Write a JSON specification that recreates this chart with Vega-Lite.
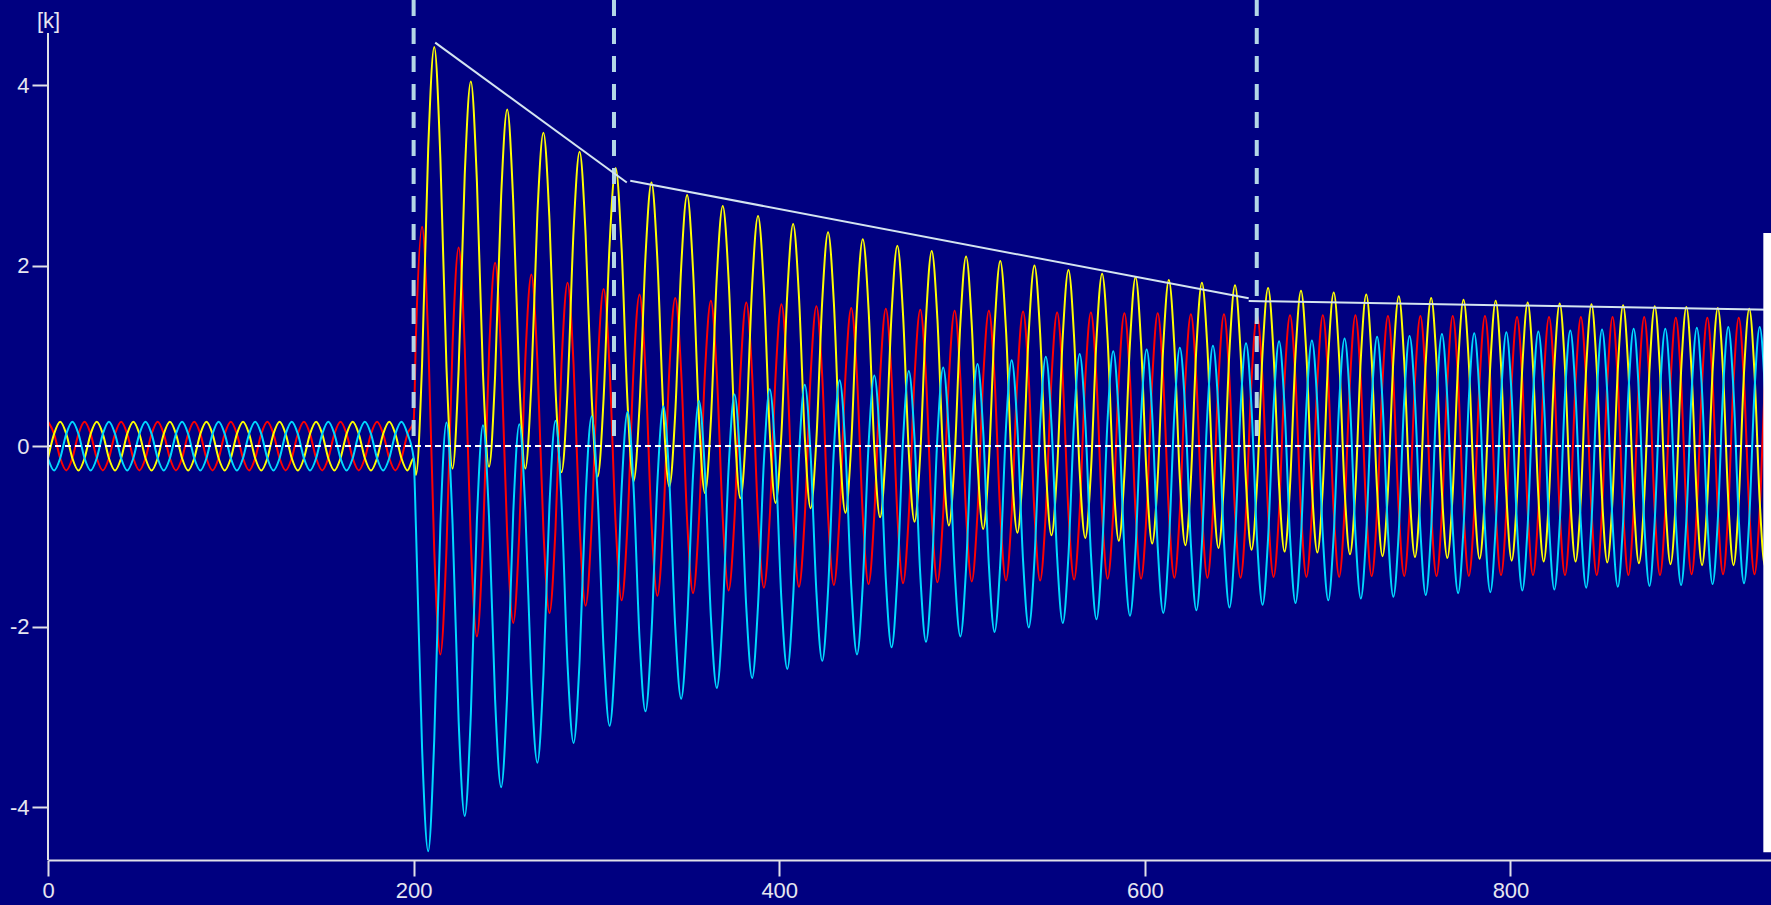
{
"$schema": "https://vega.github.io/schema/vega-lite/v6.json",
"width": 1723,
"height": 860,
"autosize": {"type": "none"},
"padding": {"left": 48, "top": 0, "right": 0, "bottom": 45},
"background": "#000080",
"config": {
"view": {"stroke": null},
"axis": {"grid": false, "domainColor": "#E0E0E8", "domainWidth": 2, "tickColor": "#E0E0E8", "tickWidth": 2, "tickSize": 16, "labelColor": "#E6E6F0", "labelFont": "Liberation Sans", "labelFontSize": 22, "labelFlush": false, "titleColor": "#E6E6F0", "titleFont": "Liberation Sans", "titleFontSize": 22, "titleFontWeight": "normal"},
"axisX": {"labelPadding": 4},
"axisY": {"labelPadding": 3, "domain": false, "titleAngle": 0, "titleX": 0, "titleY": 20, "titleAlign": "center", "titleBaseline": "middle"}
},
"datasets": {
"wave": [
{"t":0,"y":-0.135,"r":0.27,"c":-0.135},{"t":3.33,"y":0.135,"r":0.135,"c":-0.27},{"t":6.67,"y":0.27,"r":-0.135,"c":-0.135},{"t":10,"y":0.135,"r":-0.27,"c":0.135},{"t":13.33,"y":-0.135,"r":-0.135,"c":0.27},{"t":16.67,"y":-0.27,"r":0.135,"c":0.135},
{"t":20,"y":-0.135,"r":0.27,"c":-0.135},{"t":23.33,"y":0.135,"r":0.135,"c":-0.27},{"t":26.67,"y":0.27,"r":-0.135,"c":-0.135},{"t":30,"y":0.135,"r":-0.27,"c":0.135},{"t":33.33,"y":-0.135,"r":-0.135,"c":0.27},{"t":36.67,"y":-0.27,"r":0.135,"c":0.135},
{"t":40,"y":-0.135,"r":0.27,"c":-0.135},{"t":43.33,"y":0.135,"r":0.135,"c":-0.27},{"t":46.67,"y":0.27,"r":-0.135,"c":-0.135},{"t":50,"y":0.135,"r":-0.27,"c":0.135},{"t":53.33,"y":-0.135,"r":-0.135,"c":0.27},{"t":56.67,"y":-0.27,"r":0.135,"c":0.135},
{"t":60,"y":-0.135,"r":0.27,"c":-0.135},{"t":63.33,"y":0.135,"r":0.135,"c":-0.27},{"t":66.67,"y":0.27,"r":-0.135,"c":-0.135},{"t":70,"y":0.135,"r":-0.27,"c":0.135},{"t":73.33,"y":-0.135,"r":-0.135,"c":0.27},{"t":76.67,"y":-0.27,"r":0.135,"c":0.135},
{"t":80,"y":-0.135,"r":0.27,"c":-0.135},{"t":83.33,"y":0.135,"r":0.135,"c":-0.27},{"t":86.67,"y":0.27,"r":-0.135,"c":-0.135},{"t":90,"y":0.135,"r":-0.27,"c":0.135},{"t":93.33,"y":-0.135,"r":-0.135,"c":0.27},{"t":96.67,"y":-0.27,"r":0.135,"c":0.135},
{"t":100,"y":-0.135,"r":0.27,"c":-0.135},{"t":103.33,"y":0.135,"r":0.135,"c":-0.27},{"t":106.67,"y":0.27,"r":-0.135,"c":-0.135},{"t":110,"y":0.135,"r":-0.27,"c":0.135},{"t":113.33,"y":-0.135,"r":-0.135,"c":0.27},{"t":116.67,"y":-0.27,"r":0.135,"c":0.135},
{"t":120,"y":-0.135,"r":0.27,"c":-0.135},{"t":123.33,"y":0.135,"r":0.135,"c":-0.27},{"t":126.67,"y":0.27,"r":-0.135,"c":-0.135},{"t":130,"y":0.135,"r":-0.27,"c":0.135},{"t":133.33,"y":-0.135,"r":-0.135,"c":0.27},{"t":136.67,"y":-0.27,"r":0.135,"c":0.135},
{"t":140,"y":-0.135,"r":0.27,"c":-0.135},{"t":143.33,"y":0.135,"r":0.135,"c":-0.27},{"t":146.67,"y":0.27,"r":-0.135,"c":-0.135},{"t":150,"y":0.135,"r":-0.27,"c":0.135},{"t":153.33,"y":-0.135,"r":-0.135,"c":0.27},{"t":156.67,"y":-0.27,"r":0.135,"c":0.135},
{"t":160,"y":-0.135,"r":0.27,"c":-0.135},{"t":163.33,"y":0.135,"r":0.135,"c":-0.27},{"t":166.67,"y":0.27,"r":-0.135,"c":-0.135},{"t":170,"y":0.135,"r":-0.27,"c":0.135},{"t":173.33,"y":-0.135,"r":-0.135,"c":0.27},{"t":176.67,"y":-0.27,"r":0.135,"c":0.135},
{"t":180,"y":-0.135,"r":0.27,"c":-0.135},{"t":183.33,"y":0.135,"r":0.135,"c":-0.27},{"t":186.67,"y":0.27,"r":-0.135,"c":-0.135},{"t":190,"y":0.135,"r":-0.27,"c":0.135},{"t":193.33,"y":-0.135,"r":-0.135,"c":0.27},{"t":196.67,"y":-0.27,"r":0.135,"c":0.135},
{"t":200,"y":-0.135,"r":0.27,"c":-0.135},
{"t":201.3,"y":-0.32,"r":1.24,"c":-0.92},{"t":204.63,"y":0.91,"r":2.43,"c":-3.35},{"t":207.97,"y":3.29,"r":1.2,"c":-4.49},
{"t":211.3,"y":4.42,"r":-1.17,"c":-3.24},{"t":214.63,"y":3.19,"r":-2.31,"c":-0.88},{"t":217.97,"y":0.87,"r":-1.14,"c":0.26},{"t":221.3,"y":-0.25,"r":1.12,"c":-0.86},{"t":224.63,"y":0.85,"r":2.2,"c":-3.05},{"t":227.97,"y":3.01,"r":1.08,"c":-4.1},
{"t":231.3,"y":4.04,"r":-1.07,"c":-2.97},{"t":234.62,"y":2.93,"r":-2.11,"c":-0.82},{"t":237.93,"y":0.81,"r":-1.04,"c":0.23},{"t":241.25,"y":-0.23,"r":1.03,"c":-0.79},{"t":244.57,"y":0.78,"r":2.03,"c":-2.81},{"t":247.88,"y":2.77,"r":1.0,"c":-3.78},
{"t":251.2,"y":3.73,"r":-0.99,"c":-2.74},{"t":254.5,"y":2.7,"r":-1.96,"c":-0.74},{"t":257.8,"y":0.73,"r":-0.97,"c":0.24},{"t":261.1,"y":-0.25,"r":0.96,"c":-0.71},{"t":264.4,"y":0.7,"r":1.9,"c":-2.6},{"t":267.7,"y":2.57,"r":0.94,"c":-3.51},
{"t":271.0,"y":3.47,"r":-0.93,"c":-2.54},{"t":274.3,"y":2.51,"r":-1.85,"c":-0.66},{"t":277.6,"y":0.64,"r":-0.92,"c":0.28},{"t":280.9,"y":-0.29,"r":0.91,"c":-0.63},{"t":284.2,"y":0.61,"r":1.81,"c":-2.42},{"t":287.5,"y":2.39,"r":0.9,"c":-3.29},
{"t":290.8,"y":3.26,"r":-0.89,"c":-2.37},{"t":294.08,"y":2.34,"r":-1.77,"c":-0.57},{"t":297.37,"y":0.55,"r":-0.88,"c":0.33},{"t":300.65,"y":-0.34,"r":0.87,"c":-0.54},{"t":303.93,"y":0.53,"r":1.74,"c":-2.26},{"t":307.22,"y":2.24,"r":0.86,"c":-3.1},
{"t":310.5,"y":3.08,"r":-0.86,"c":-2.22},{"t":313.77,"y":2.19,"r":-1.71,"c":-0.48},{"t":317.03,"y":0.47,"r":-0.85,"c":0.38},{"t":320.3,"y":-0.39,"r":0.85,"c":-0.45},{"t":323.57,"y":0.44,"r":1.68,"c":-2.13},{"t":326.83,"y":2.1,"r":0.84,"c":-2.94},
{"t":330.1,"y":2.92,"r":-0.84,"c":-2.08},{"t":333.35,"y":2.06,"r":-1.66,"c":-0.4},{"t":336.6,"y":0.39,"r":-0.83,"c":0.44},{"t":339.85,"y":-0.45,"r":0.83,"c":-0.37},{"t":343.1,"y":0.36,"r":1.64,"c":-2.0},{"t":346.35,"y":1.98,"r":0.82,"c":-2.8},
{"t":349.6,"y":2.78,"r":-0.82,"c":-1.96},{"t":352.85,"y":1.95,"r":-1.63,"c":-0.32},{"t":356.1,"y":0.31,"r":-0.81,"c":0.5},{"t":359.35,"y":-0.52,"r":0.81,"c":-0.29},{"t":362.6,"y":0.28,"r":1.61,"c":-1.89},{"t":365.85,"y":1.88,"r":0.8,"c":-2.68},
{"t":369.1,"y":2.66,"r":-0.8,"c":-1.86},{"t":372.32,"y":1.84,"r":-1.6,"c":-0.24},{"t":375.53,"y":0.23,"r":-0.8,"c":0.57},{"t":378.75,"y":-0.58,"r":0.8,"c":-0.22},{"t":381.97,"y":0.21,"r":1.59,"c":-1.79},{"t":385.18,"y":1.78,"r":0.79,"c":-2.57},
{"t":388.4,"y":2.55,"r":-0.79,"c":-1.76},{"t":391.6,"y":1.75,"r":-1.57,"c":-0.17},{"t":394.8,"y":0.16,"r":-0.79,"c":0.63},{"t":398.0,"y":-0.63,"r":0.78,"c":-0.15},{"t":401.2,"y":0.14,"r":1.57,"c":-1.71},{"t":404.4,"y":1.69,"r":0.78,"c":-2.47},
{"t":407.6,"y":2.46,"r":-0.78,"c":-1.68},{"t":410.78,"y":1.66,"r":-1.56,"c":-0.11},{"t":413.97,"y":0.1,"r":-0.78,"c":0.68},{"t":417.15,"y":-0.69,"r":0.78,"c":-0.09},{"t":420.33,"y":0.08,"r":1.55,"c":-1.62},{"t":423.52,"y":1.61,"r":0.77,"c":-2.38},
{"t":426.7,"y":2.37,"r":-0.77,"c":-1.6},{"t":429.87,"y":1.59,"r":-1.54,"c":-0.05},{"t":433.03,"y":0.04,"r":-0.77,"c":0.73},{"t":436.2,"y":-0.74,"r":0.77,"c":-0.03},{"t":439.37,"y":0.02,"r":1.53,"c":-1.55},{"t":442.53,"y":1.54,"r":0.77,"c":-2.31},
{"t":445.7,"y":2.29,"r":-0.77,"c":-1.53},{"t":448.85,"y":1.52,"r":-1.53,"c":0.01},{"t":452.0,"y":-0.02,"r":-0.76,"c":0.78},{"t":455.15,"y":-0.79,"r":0.76,"c":0.03},{"t":458.3,"y":-0.04,"r":1.52,"c":-1.48},{"t":461.45,"y":1.47,"r":0.76,"c":-2.23},
{"t":464.6,"y":2.22,"r":-0.76,"c":-1.46},{"t":467.73,"y":1.45,"r":-1.52,"c":0.07},{"t":470.87,"y":-0.07,"r":-0.76,"c":0.83},{"t":474.0,"y":-0.84,"r":0.76,"c":0.08},{"t":477.13,"y":-0.09,"r":1.51,"c":-1.42},{"t":480.27,"y":1.41,"r":0.76,"c":-2.17},
{"t":483.4,"y":2.16,"r":-0.75,"c":-1.41},{"t":486.53,"y":1.4,"r":-1.51,"c":0.11},{"t":489.67,"y":-0.12,"r":-0.75,"c":0.87},{"t":492.8,"y":-0.88,"r":0.75,"c":0.13},{"t":495.93,"y":-0.14,"r":1.5,"c":-1.37},{"t":499.07,"y":1.36,"r":0.75,"c":-2.11},
{"t":502.2,"y":2.1,"r":-0.75,"c":-1.35},{"t":505.32,"y":1.34,"r":-1.5,"c":0.16},{"t":508.43,"y":-0.17,"r":-0.75,"c":0.91},{"t":511.55,"y":-0.92,"r":0.75,"c":0.17},{"t":514.67,"y":-0.18,"r":1.5,"c":-1.32},{"t":517.78,"y":1.31,"r":0.75,"c":-2.06},
{"t":520.9,"y":2.05,"r":-0.75,"c":-1.3},{"t":524.02,"y":1.29,"r":-1.49,"c":0.2},{"t":527.13,"y":-0.21,"r":-0.75,"c":0.95},{"t":530.25,"y":-0.96,"r":0.74,"c":0.21},{"t":533.37,"y":-0.22,"r":1.49,"c":-1.27},{"t":536.48,"y":1.26,"r":0.74,"c":-2.01},
{"t":539.6,"y":2.0,"r":-0.74,"c":-1.26},{"t":542.7,"y":1.25,"r":-1.49,"c":0.24},{"t":545.8,"y":-0.24,"r":-0.74,"c":0.99},{"t":548.9,"y":-0.99,"r":0.74,"c":0.25},{"t":552.0,"y":-0.26,"r":1.48,"c":-1.23},{"t":555.1,"y":1.22,"r":0.74,"c":-1.96},
{"t":558.2,"y":1.95,"r":-0.74,"c":-1.21},{"t":561.27,"y":1.21,"r":-1.48,"c":0.27},{"t":564.33,"y":-0.28,"r":-0.74,"c":1.02},{"t":567.4,"y":-1.02,"r":0.74,"c":0.28},{"t":570.47,"y":-0.29,"r":1.48,"c":-1.19},{"t":573.53,"y":1.18,"r":0.74,"c":-1.92},
{"t":576.6,"y":1.91,"r":-0.74,"c":-1.17},{"t":579.65,"y":1.17,"r":-1.47,"c":0.31},{"t":582.7,"y":-0.31,"r":-0.74,"c":1.05},{"t":585.75,"y":-1.05,"r":0.74,"c":0.32},{"t":588.8,"y":-0.32,"r":1.47,"c":-1.15},{"t":591.85,"y":1.14,"r":0.74,"c":-1.88},
{"t":594.9,"y":1.87,"r":-0.73,"c":-1.14},{"t":597.93,"y":1.13,"r":-1.47,"c":0.34},{"t":600.97,"y":-0.34,"r":-0.73,"c":1.07},{"t":604.0,"y":-1.08,"r":0.73,"c":0.35},{"t":607.03,"y":-0.35,"r":1.47,"c":-1.12},{"t":610.07,"y":1.11,"r":0.73,"c":-1.85},
{"t":613.1,"y":1.84,"r":-0.73,"c":-1.11},{"t":616.12,"y":1.11,"r":-1.46,"c":0.36},{"t":619.13,"y":-0.36,"r":-0.73,"c":1.09},{"t":622.15,"y":-1.1,"r":0.73,"c":0.37},{"t":625.17,"y":-0.37,"r":1.46,"c":-1.09},{"t":628.18,"y":1.09,"r":0.73,"c":-1.82},
{"t":631.2,"y":1.81,"r":-0.73,"c":-1.08},{"t":634.22,"y":1.08,"r":-1.46,"c":0.38},{"t":637.23,"y":-0.38,"r":-0.73,"c":1.11},{"t":640.25,"y":-1.13,"r":0.73,"c":0.4},{"t":643.27,"y":-0.4,"r":1.46,"c":-1.06},{"t":646.28,"y":1.06,"r":0.73,"c":-1.79},
{"t":649.3,"y":1.78,"r":-0.73,"c":-1.05},{"t":652.32,"y":1.05,"r":-1.46,"c":0.41},{"t":655.33,"y":-0.41,"r":-0.73,"c":1.14},{"t":658.35,"y":-1.15,"r":0.73,"c":0.42},{"t":661.37,"y":-0.42,"r":1.45,"c":-1.04},{"t":664.38,"y":1.04,"r":0.73,"c":-1.76},
{"t":667.4,"y":1.75,"r":-0.73,"c":-1.02},{"t":670.4,"y":1.02,"r":-1.45,"c":0.43},{"t":673.4,"y":-0.43,"r":-0.73,"c":1.16},{"t":676.4,"y":-1.17,"r":0.73,"c":0.44},{"t":679.4,"y":-0.44,"r":1.45,"c":-1.01},{"t":682.4,"y":1.01,"r":0.73,"c":-1.74},
{"t":685.4,"y":1.72,"r":-0.72,"c":-1.0},{"t":688.38,"y":1.0,"r":-1.45,"c":0.45},{"t":691.37,"y":-0.45,"r":-0.72,"c":1.17},{"t":694.35,"y":-1.18,"r":0.72,"c":0.46},{"t":697.33,"y":-0.46,"r":1.45,"c":-0.99},{"t":700.32,"y":0.99,"r":0.72,"c":-1.71},
{"t":703.3,"y":1.7,"r":-0.72,"c":-0.98},{"t":706.27,"y":0.98,"r":-1.45,"c":0.47},{"t":709.23,"y":-0.47,"r":-0.72,"c":1.19},{"t":712.2,"y":-1.2,"r":0.72,"c":0.48},{"t":715.17,"y":-0.48,"r":1.45,"c":-0.97},{"t":718.13,"y":0.97,"r":0.72,"c":-1.69},
{"t":721.1,"y":1.68,"r":-0.72,"c":-0.96},{"t":724.07,"y":0.96,"r":-1.44,"c":0.49},{"t":727.03,"y":-0.49,"r":-0.72,"c":1.21},{"t":730.0,"y":-1.22,"r":0.72,"c":0.49},{"t":732.97,"y":-0.49,"r":1.44,"c":-0.95},{"t":735.93,"y":0.95,"r":0.72,"c":-1.67},
{"t":738.9,"y":1.66,"r":-0.72,"c":-0.94},{"t":741.85,"y":0.94,"r":-1.44,"c":0.5},{"t":744.8,"y":-0.5,"r":-0.72,"c":1.22},{"t":747.75,"y":-1.23,"r":0.72,"c":0.51},{"t":750.7,"y":-0.51,"r":1.44,"c":-0.93},{"t":753.65,"y":0.93,"r":0.72,"c":-1.65},
{"t":756.6,"y":1.64,"r":-0.72,"c":-0.92},{"t":759.55,"y":0.92,"r":-1.44,"c":0.52},{"t":762.5,"y":-0.52,"r":-0.72,"c":1.24},{"t":765.45,"y":-1.24,"r":0.72,"c":0.52},{"t":768.4,"y":-0.52,"r":1.44,"c":-0.91},{"t":771.35,"y":0.91,"r":0.72,"c":-1.63},
{"t":774.3,"y":1.62,"r":-0.72,"c":-0.91},{"t":777.23,"y":0.91,"r":-1.44,"c":0.53},{"t":780.17,"y":-0.53,"r":-0.72,"c":1.25},{"t":783.1,"y":-1.25,"r":0.72,"c":0.54},{"t":786.03,"y":-0.54,"r":1.44,"c":-0.9},{"t":788.97,"y":0.9,"r":0.72,"c":-1.62},
{"t":791.9,"y":1.61,"r":-0.72,"c":-0.89},{"t":794.82,"y":0.89,"r":-1.43,"c":0.54},{"t":797.73,"y":-0.54,"r":-0.72,"c":1.26},{"t":800.65,"y":-1.27,"r":0.72,"c":0.55},{"t":803.57,"y":-0.55,"r":1.43,"c":-0.88},{"t":806.48,"y":0.88,"r":0.72,"c":-1.6},
{"t":809.4,"y":1.59,"r":-0.72,"c":-0.88},{"t":812.32,"y":0.88,"r":-1.43,"c":0.55},{"t":815.23,"y":-0.55,"r":-0.72,"c":1.27},{"t":818.15,"y":-1.28,"r":0.72,"c":0.56},{"t":821.07,"y":-0.56,"r":1.43,"c":-0.87},{"t":823.98,"y":0.87,"r":0.72,"c":-1.59},
{"t":826.9,"y":1.58,"r":-0.72,"c":-0.87},{"t":829.8,"y":0.87,"r":-1.43,"c":0.56},{"t":832.7,"y":-0.56,"r":-0.72,"c":1.28},{"t":835.6,"y":-1.28,"r":0.71,"c":0.57},{"t":838.5,"y":-0.57,"r":1.43,"c":-0.86},{"t":841.4,"y":0.86,"r":0.71,"c":-1.57},
{"t":844.3,"y":1.57,"r":-0.71,"c":-0.85},{"t":847.18,"y":0.85,"r":-1.43,"c":0.57},{"t":850.07,"y":-0.57,"r":-0.71,"c":1.29},{"t":852.95,"y":-1.29,"r":0.71,"c":0.58},{"t":855.83,"y":-0.58,"r":1.43,"c":-0.85},{"t":858.72,"y":0.85,"r":0.71,"c":-1.56},
{"t":861.6,"y":1.56,"r":-0.71,"c":-0.84},{"t":864.48,"y":0.84,"r":-1.43,"c":0.58},{"t":867.37,"y":-0.58,"r":-0.71,"c":1.3},{"t":870.25,"y":-1.3,"r":0.71,"c":0.59},{"t":873.13,"y":-0.59,"r":1.43,"c":-0.84},{"t":876.02,"y":0.84,"r":0.71,"c":-1.55},
{"t":878.9,"y":1.55,"r":-0.71,"c":-0.83},{"t":881.78,"y":0.83,"r":-1.43,"c":0.59},{"t":884.67,"y":-0.59,"r":-0.71,"c":1.3},{"t":887.55,"y":-1.31,"r":0.71,"c":0.6},{"t":890.43,"y":-0.6,"r":1.42,"c":-0.83},{"t":893.32,"y":0.83,"r":0.71,"c":-1.54},
{"t":896.2,"y":1.54,"r":-0.71,"c":-0.82},{"t":899.07,"y":0.82,"r":-1.42,"c":0.6},{"t":901.93,"y":-0.6,"r":-0.71,"c":1.31},{"t":904.8,"y":-1.32,"r":0.71,"c":0.6},{"t":907.67,"y":-0.6,"r":1.42,"c":-0.82},{"t":910.53,"y":0.82,"r":0.71,"c":-1.53},
{"t":913.4,"y":1.53,"r":-0.71,"c":-0.82},{"t":916.27,"y":0.82,"r":-1.42,"c":0.61},{"t":919.13,"y":-0.61,"r":-0.71,"c":1.32},{"t":922.0,"y":-1.32,"r":0.71,"c":0.61},{"t":924.87,"y":-0.61,"r":1.42,"c":-0.81},{"t":927.73,"y":0.81,"r":0.71,"c":-1.52},
{"t":930.6,"y":1.52,"r":-0.71,"c":-0.81},{"t":933.47,"y":0.81,"r":-1.42,"c":0.61},{"t":936.33,"y":-0.61,"r":-0.71,"c":1.32},{"t":939.2,"y":-1.33,"r":0.71,"c":0.62},{"t":942.07,"y":-0.62,"r":1.42,"c":-0.8},{"t":944.93,"y":0.8,"r":0.71,"c":-1.51}
],
"envelope": [
{"seg":1,"t":211.8,"v":4.47},{"seg":1,"t":316.6,"v":2.92},
{"seg":2,"t":318.5,"v":2.94},{"seg":2,"t":656.8,"v":1.637},
{"seg":3,"t":656.8,"v":1.607},{"seg":3,"t":942.5,"v":1.51}
],
"events": [{"t":200},{"t":309.6},{"t":661.2}],
"single": [{"item":"frame"}]
},
"layer": [
{
"data": {"name": "wave"},
"mark": {"type": "line", "color": "#FF0000", "strokeWidth": 2, "interpolate": "monotone", "clip": true},
"encoding": {
"x": {"field": "t", "type": "quantitative", "scale": {"domain": [0, 942.5], "nice": false, "zero": false}, "axis": {"values": [0, 200, 400, 600, 800], "title": null}},
"y": {"field": "r", "type": "quantitative", "scale": {"domain": [-4.587, 4.942], "nice": false, "zero": false}, "axis": {"values": [-4, -2, 0, 2, 4], "title": "[k]", "labelExpr": "'' + datum.value"}}
}
},
{
"data": {"name": "wave"},
"mark": {"type": "line", "color": "#FFFF00", "strokeWidth": 2, "interpolate": "monotone", "clip": true},
"encoding": {
"x": {"field": "t", "type": "quantitative", "scale": {"domain": [0, 942.5], "nice": false, "zero": false}, "axis": {"values": [0, 200, 400, 600, 800], "title": null}},
"y": {"field": "y", "type": "quantitative", "scale": {"domain": [-4.587, 4.942], "nice": false, "zero": false}, "axis": {"values": [-4, -2, 0, 2, 4], "title": "[k]", "labelExpr": "'' + datum.value"}}
}
},
{
"data": {"name": "wave"},
"mark": {"type": "line", "color": "#00D8FF", "strokeWidth": 2, "interpolate": "monotone", "clip": true},
"encoding": {
"x": {"field": "t", "type": "quantitative", "scale": {"domain": [0, 942.5], "nice": false, "zero": false}, "axis": {"values": [0, 200, 400, 600, 800], "title": null}},
"y": {"field": "c", "type": "quantitative", "scale": {"domain": [-4.587, 4.942], "nice": false, "zero": false}, "axis": {"values": [-4, -2, 0, 2, 4], "title": "[k]", "labelExpr": "'' + datum.value"}}
}
},
{
"data": {"name": "single"},
"mark": {"type": "rule", "color": "#FFFFFF", "strokeWidth": 2, "strokeDash": [6, 4]},
"encoding": {
"y": {"datum": 0, "type": "quantitative", "scale": {"domain": [-4.587, 4.942], "nice": false, "zero": false}, "axis": {"values": [-4, -2, 0, 2, 4], "title": "[k]", "labelExpr": "'' + datum.value"}}
}
},
{
"data": {"name": "events"},
"mark": {"type": "rule", "color": "#B4D6E6", "strokeWidth": 4, "strokeDash": [16, 12]},
"encoding": {
"x": {"field": "t", "type": "quantitative", "scale": {"domain": [0, 942.5], "nice": false, "zero": false}, "axis": {"values": [0, 200, 400, 600, 800], "title": null}},
"y": {"datum": 4.942, "type": "quantitative", "scale": {"domain": [-4.587, 4.942], "nice": false, "zero": false}, "axis": {"values": [-4, -2, 0, 2, 4], "title": "[k]", "labelExpr": "'' + datum.value"}},
"y2": {"datum": 0}
}
},
{
"data": {"name": "envelope"},
"mark": {"type": "line", "color": "#D4E4F0", "strokeWidth": 2, "clip": true},
"encoding": {
"x": {"field": "t", "type": "quantitative", "scale": {"domain": [0, 942.5], "nice": false, "zero": false}, "axis": {"values": [0, 200, 400, 600, 800], "title": null}},
"y": {"field": "v", "type": "quantitative", "scale": {"domain": [-4.587, 4.942], "nice": false, "zero": false}, "axis": {"values": [-4, -2, 0, 2, 4], "title": "[k]", "labelExpr": "'' + datum.value"}},
"detail": {"field": "seg", "type": "nominal"}
}
},
{
"data": {"name": "single"},
"mark": {"type": "rule", "color": "#E0E0E8", "strokeWidth": 2},
"encoding": {
"x": {"datum": 0, "type": "quantitative", "scale": {"domain": [0, 942.5], "nice": false, "zero": false}, "axis": {"values": [0, 200, 400, 600, 800], "title": null}},
"y": {"datum": -4.587, "type": "quantitative", "scale": {"domain": [-4.587, 4.942], "nice": false, "zero": false}, "axis": {"values": [-4, -2, 0, 2, 4], "title": "[k]", "labelExpr": "'' + datum.value"}},
"y2": {"datum": 4.576}
}
},
{
"data": {"name": "single"},
"mark": {"type": "rect", "color": "#FFFFFF"},
"encoding": {
"x": {"datum": 938.3, "type": "quantitative", "scale": {"domain": [0, 942.5], "nice": false, "zero": false}, "axis": {"values": [0, 200, 400, 600, 800], "title": null}},
"x2": {"datum": 942.5},
"y": {"datum": 2.36, "type": "quantitative", "scale": {"domain": [-4.587, 4.942], "nice": false, "zero": false}, "axis": {"values": [-4, -2, 0, 2, 4], "title": "[k]", "labelExpr": "'' + datum.value"}},
"y2": {"datum": -4.5}
}
}
]
}
